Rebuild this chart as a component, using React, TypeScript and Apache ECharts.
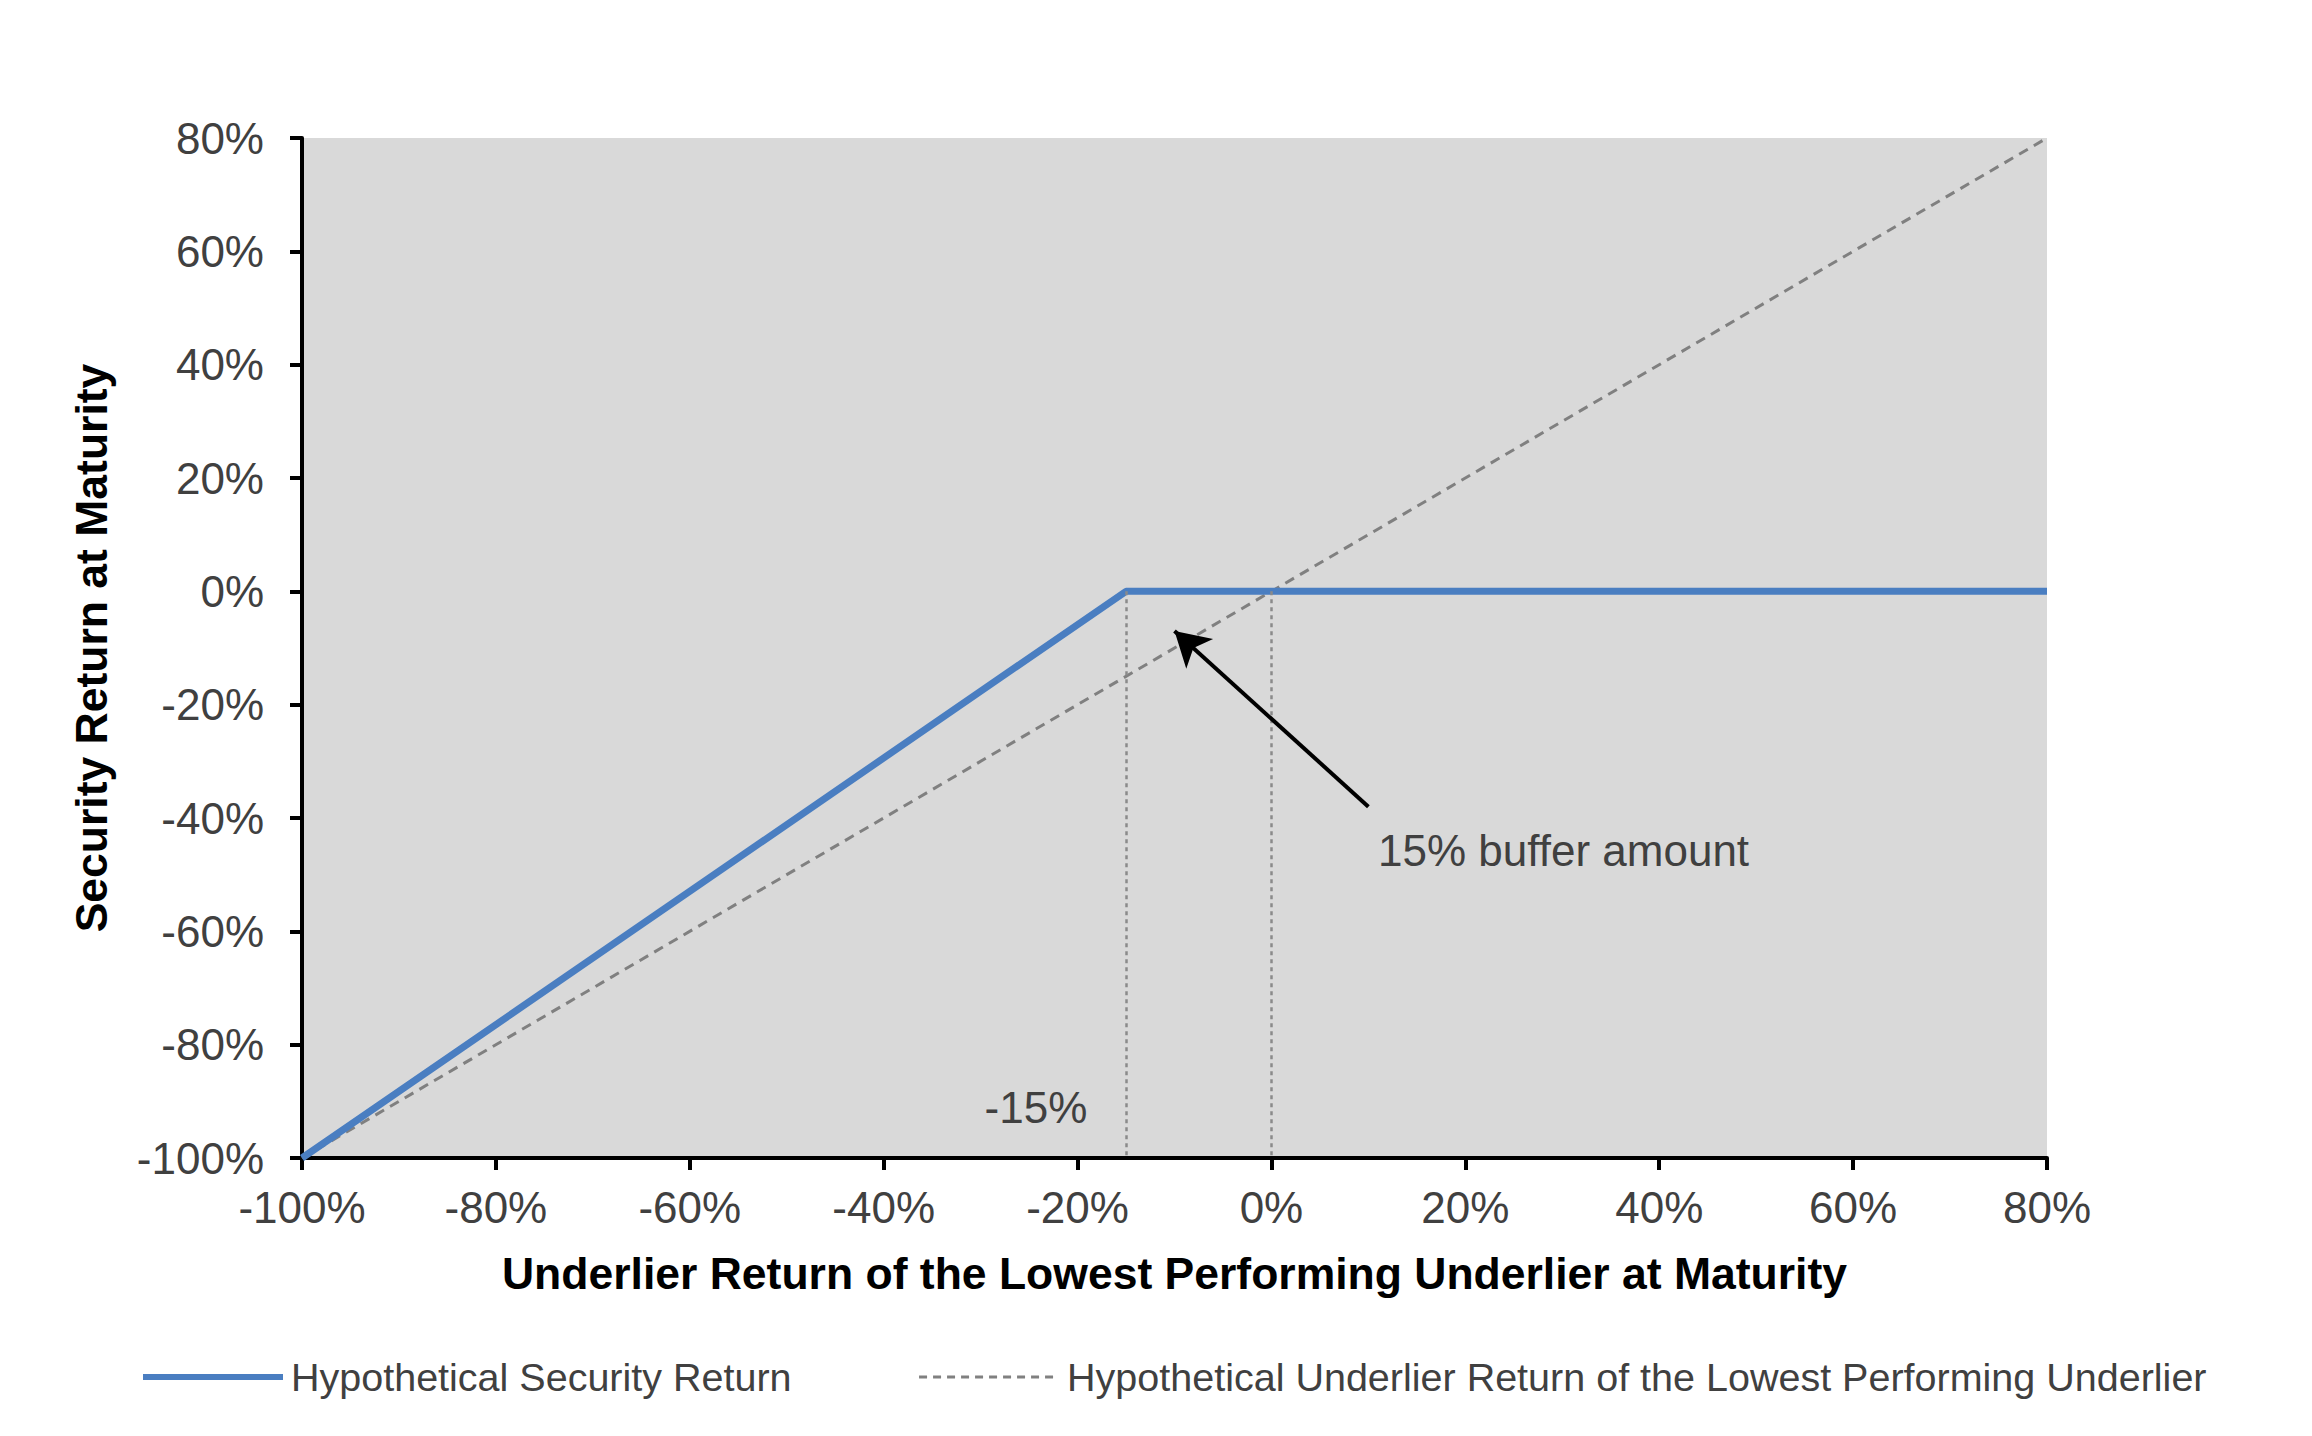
import React, { useEffect, useRef } from "react";
import * as echarts from "echarts";

const xTicks = [-100, -80, -60, -40, -20, 0, 20, 40, 60, 80];
const securityReturn: [number, number][] = [
  [-100, -100],
  [-15, 0],
  [80, 0],
];
const underlierReturn: [number, number][] = [
  [-100, -100],
  [80, 80],
];
const guideXs = [-15, 0];
const arrowFrom: [number, number] = [10, -38];
const arrowTo: [number, number] = [-10, -7];
const annotationPos: [number, number] = [11, -45.7];
const annotationText = "15% buffer amount";
const bufferLabelPos: [number, number] = [-19, -91];
const bufferLabelText = "-15%";
const seriesNames = [
  "Hypothetical Security Return",
  "Hypothetical Underlier Return of the Lowest Performing Underlier",
];

const FONT = "'Liberation Sans', Arial, Helvetica, sans-serif";
const BLUE = "#4A7EC1";
const GRAY = "#808080";

export default function App() {
  const ref = useRef<HTMLDivElement>(null);
  useEffect(() => {
    if (!ref.current) return;
    const chart = echarts.init(ref.current, undefined, { renderer: "svg" });
    const axisCommon = {
      type: "value" as const,
      min: xTicks[0],
      max: xTicks[xTicks.length - 1],
      interval: 20,
      splitLine: { show: false },
      axisLine: { show: true, onZero: false, lineStyle: { color: "#000", width: 4 } },
      axisTick: { show: true, inside: false, length: 12, lineStyle: { color: "#000", width: 4 } },
      nameTextStyle: { color: "#000", fontSize: 44.5, fontWeight: "bold" as const, fontFamily: FONT },
    };
    chart.setOption({
      animation: false,
      backgroundColor: "#fff",
      textStyle: { fontFamily: FONT },
      grid: {
        left: 302,
        top: 138,
        width: 1745,
        height: 1020,
        show: true,
        backgroundColor: "#D9D9D9",
        borderWidth: 0,
      },
      xAxis: {
        ...axisCommon,
        name: "Underlier Return of the Lowest Performing Underlier at Maturity",
        nameLocation: "middle",
        nameGap: 93,
        axisLabel: {
          formatter: (v: number) => `${v}%`,
          color: "#404040",
          fontSize: 44,
          fontFamily: FONT,
          margin: 27,
        },
      },
      yAxis: {
        ...axisCommon,
        name: "Security Return at Maturity",
        nameLocation: "middle",
        nameGap: 188,
        axisLabel: {
          formatter: (v: number) => `${v}%`,
          color: "#404040",
          fontSize: 44,
          fontFamily: FONT,
          margin: 38,
        },
      },
      legend: {
        left: 135,
        top: 1352,
        itemWidth: 140,
        itemHeight: 14,
        itemGap: 126,
        textStyle: { color: "#404040", fontSize: 39.5, fontFamily: FONT, padding: [0, 0, 0, 3] },
        data: [
          {
            name: seriesNames[0],
            itemStyle: { opacity: 0 },
            lineStyle: { width: 6, color: BLUE, type: "solid" },
          },
          {
            name: seriesNames[1],
            itemStyle: { opacity: 0 },
            lineStyle: { width: 3, color: GRAY, type: [8, 6] },
          },
        ],
      },
      series: [
        {
          name: seriesNames[1],
          type: "line",
          data: underlierReturn,
          symbol: "none",
          lineStyle: { color: GRAY, width: 3, type: [10, 7] },
          itemStyle: { color: GRAY },
          z: 2,
        },
        {
          name: "guides",
          type: "line",
          data: [],
          symbol: "none",
          silent: true,
          markLine: {
            silent: true,
            symbol: ["none", "none"],
            label: { show: false },
            lineStyle: { color: "#8a8a8a", width: 2.5, type: [4, 4] },
            data: guideXs.map((gx) => [
              { coord: [gx, 0] },
              { coord: [gx, xTicks[0]] },
            ]),
          },
          markPoint: {
            silent: true,
            symbol: "circle",
            symbolSize: 0,
            data: [
              {
                coord: annotationPos,
                label: {
                  show: true,
                  position: "right",
                  distance: 0,
                  formatter: annotationText,
                  color: "#404040",
                  fontSize: 44,
                  fontFamily: FONT,
                },
              },
              {
                coord: bufferLabelPos,
                label: {
                  show: true,
                  position: "left",
                  distance: 0,
                  formatter: bufferLabelText,
                  color: "#404040",
                  fontSize: 44,
                  fontFamily: FONT,
                },
              },
            ],
          },
          z: 1,
        },
        {
          name: "arrow",
          type: "line",
          data: [],
          symbol: "none",
          silent: true,
          markLine: {
            silent: true,
            symbol: ["none", "arrow"],
            symbolSize: [30, 34],
            label: { show: false },
            lineStyle: { color: "#000", width: 4, type: "solid" },
            data: [[{ coord: arrowFrom }, { coord: arrowTo }]],
          },
          z: 4,
        },
        {
          name: seriesNames[0],
          type: "line",
          data: securityReturn,
          symbol: "none",
          lineStyle: { color: BLUE, width: 7 },
          itemStyle: { color: BLUE },
          z: 3,
        },
      ],
    });
    return () => chart.dispose();
  }, []);
  return (
    <div
      ref={ref}
      style={{ position: "fixed", left: 0, top: 0, width: 2312, height: 1436, background: "#fff" }}
    />
  );
}
